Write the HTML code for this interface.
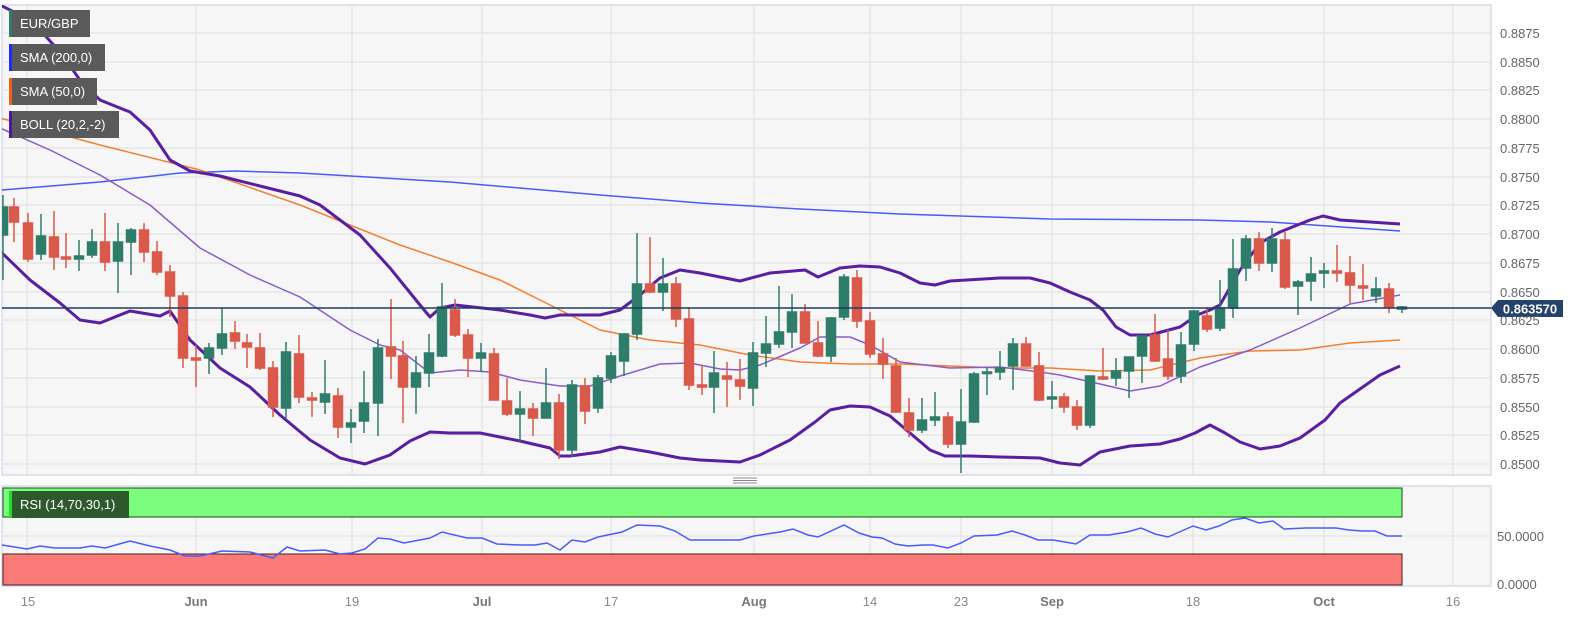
<!DOCTYPE html>
<html><head><meta charset="utf-8"><style>
html,body{margin:0;padding:0;background:#fff;width:1570px;height:623px;overflow:hidden}
svg{display:block;font-family:"Liberation Sans",sans-serif}
</style></head><body>
<svg width="1570" height="623" viewBox="0 0 1570 623" xmlns="http://www.w3.org/2000/svg">
<defs><clipPath id="mc"><rect x="2" y="5" width="1489" height="470"/></clipPath></defs>
<rect x="0" y="0" width="1570" height="623" fill="#fff"/>
<rect x="2" y="5" width="1489" height="470" fill="#f6f6f6" stroke="#d6dbe8" stroke-width="1.5"/>
<rect x="2" y="486" width="1489" height="100" fill="#f6f6f6" stroke="#d6dbe8" stroke-width="1.5"/>
<g stroke="#e3e3e3" stroke-width="1.2">
<line x1="2" x2="1491" y1="33" y2="33"/><line x1="2" x2="1491" y1="62" y2="62"/><line x1="2" x2="1491" y1="90" y2="90"/><line x1="2" x2="1491" y1="119" y2="119"/><line x1="2" x2="1491" y1="148" y2="148"/><line x1="2" x2="1491" y1="177" y2="177"/><line x1="2" x2="1491" y1="205" y2="205"/><line x1="2" x2="1491" y1="234" y2="234"/><line x1="2" x2="1491" y1="263" y2="263"/><line x1="2" x2="1491" y1="292" y2="292"/><line x1="2" x2="1491" y1="320" y2="320"/><line x1="2" x2="1491" y1="349" y2="349"/><line x1="2" x2="1491" y1="378" y2="378"/><line x1="2" x2="1491" y1="407" y2="407"/><line x1="2" x2="1491" y1="435" y2="435"/><line x1="2" x2="1491" y1="464" y2="464"/>
<line x1="2" x2="1491" y1="536" y2="536"/>
<g>
<line x1="27" x2="27" y1="5" y2="475"/><line x1="196" x2="196" y1="5" y2="475"/><line x1="352" x2="352" y1="5" y2="475"/><line x1="482" x2="482" y1="5" y2="475"/><line x1="611" x2="611" y1="5" y2="475"/><line x1="754" x2="754" y1="5" y2="475"/><line x1="870" x2="870" y1="5" y2="475"/><line x1="961" x2="961" y1="5" y2="475"/><line x1="1052" x2="1052" y1="5" y2="475"/><line x1="1193" x2="1193" y1="5" y2="475"/><line x1="1324" x2="1324" y1="5" y2="475"/><line x1="1453" x2="1453" y1="5" y2="475"/>
<line x1="27" x2="27" y1="486" y2="586"/><line x1="196" x2="196" y1="486" y2="586"/><line x1="352" x2="352" y1="486" y2="586"/><line x1="482" x2="482" y1="486" y2="586"/><line x1="611" x2="611" y1="486" y2="586"/><line x1="754" x2="754" y1="486" y2="586"/><line x1="870" x2="870" y1="486" y2="586"/><line x1="961" x2="961" y1="486" y2="586"/><line x1="1052" x2="1052" y1="486" y2="586"/><line x1="1193" x2="1193" y1="486" y2="586"/><line x1="1324" x2="1324" y1="486" y2="586"/><line x1="1453" x2="1453" y1="486" y2="586"/>
</g></g>

<g clip-path="url(#mc)" fill="none" stroke-linejoin="round">
<polyline stroke="#4a5cf5" stroke-width="1.5" points="2,190 100,182 180,173 235,171 300,173 450,182 600,195 700,203 800,209 900,214 1050,219 1200,220 1270,222 1400,231"/>
<polyline stroke="#f08030" stroke-width="1.5" points="0,118 100,145 200,170 300,205 400,245 450,262 500,280 550,305 600,330 650,340 700,345 750,355 800,362 850,364 900,364 1000,368 1050,368 1100,371 1150,370 1200,358 1250,351 1300,350 1350,343 1400,340"/>
<polyline stroke="#8a5cc8" stroke-width="1.5" points="0,128 50,150 100,175 150,205 200,248 250,275 300,297 350,330 380,345 400,350 430,373 460,370 490,372 520,380 560,386 590,386 620,376 660,364 690,363 720,369 740,370 760,365 800,348 820,337 850,337 870,345 900,362 950,368 1000,367 1040,372 1060,375 1100,384 1130,391 1160,386 1200,367 1250,350 1300,328 1350,304 1400,295"/>
<polyline stroke="#5a1fa0" stroke-width="3" points="0,5 20,15 40,30 60,52 80,80 100,100 130,112 150,130 170,160 190,171 220,176 260,186 300,196 320,205 340,220 360,235 390,268 420,305 430,317 440,308 455,305 500,310 530,315 545,318 560,315 600,315 620,310 640,295 660,278 680,270 700,273 740,281 770,273 805,270 818,277 840,268 860,266 880,267 900,273 920,283 935,285 950,281 1000,278 1030,278 1050,283 1070,292 1090,300 1103,310 1116,327 1130,335 1150,335 1180,327 1197,315 1210,310 1220,305 1240,270 1260,243 1280,232 1310,220 1323,216 1340,220 1370,222 1400,224"/>
<polyline stroke="#5a1fa0" stroke-width="3" points="0,251 30,280 60,303 80,320 100,323 130,311 160,316 170,311 190,340 220,368 250,387 280,415 310,440 340,458 365,464 390,455 410,441 430,432 450,433 480,433 520,441 550,448 560,456 570,456 600,452 620,447 650,452 680,458 700,460 740,462 760,455 790,440 815,422 830,410 850,406 870,407 890,416 910,433 930,450 945,456 970,456 1000,457 1040,458 1060,463 1080,465 1100,452 1130,446 1160,444 1180,439 1195,433 1210,425 1225,433 1240,442 1260,449 1280,446 1300,438 1325,420 1340,403 1360,389 1380,375 1400,366"/>
</g>

<g clip-path="url(#mc)" stroke-width="1.5">
<g stroke="#2e7d6b" fill="#2e7d6b">
<path d="M3 195V280M41 214V260M79 240V271M92 229V258M118 223V293M131 228V275M209 343V374M222 308V355M286 342V418M325 360V414M351 409V443M364 371V433M378 339V436M416 356V414M429 334V387M442 283V357M481 343V372M520 391V441M546 368V418M572 380V457M598 375V413M611 352V383M624 333V376M637 233V340M663 258V311M714 351V413M753 342V406M766 316V367M779 286V348M792 294V348M831 317V362M844 274V320M922 398V433M935 392V426M961 389V473M974 372V423M987 367V395M1000 351V380M1013 338V390M1052 381V409M1090 376V428M1116 358V386M1129 357V398M1142 336V383M1181 332V383M1194 310V351M1220 280V331M1233 239V318M1246 235V281M1272 228V272M1298 280V315M1311 257V301M1324 263V288M1376 277V303M1402 306V313" fill="none"/>
<rect x="-1" y="207" width="8.5" height="28"/><rect x="36.5" y="236" width="9" height="18"/><rect x="74.5" y="256" width="9" height="3"/><rect x="87.5" y="242" width="9" height="13"/><rect x="113.5" y="242" width="9" height="19"/><rect x="126.5" y="230" width="9" height="12"/><rect x="204.5" y="348" width="9" height="10"/><rect x="217.5" y="334" width="9" height="14"/><rect x="281.5" y="352" width="9" height="56"/><rect x="320.5" y="394" width="9" height="8"/><rect x="346.5" y="423" width="9" height="4"/><rect x="359.5" y="403" width="9" height="18"/><rect x="373.5" y="348" width="9" height="55"/><rect x="411.5" y="373" width="9" height="14"/><rect x="424.5" y="353" width="9" height="20"/><rect x="437.5" y="307" width="9" height="49"/><rect x="476.5" y="353" width="9" height="5"/><rect x="515.5" y="409" width="9" height="5"/><rect x="541.5" y="403" width="9" height="15"/><rect x="567.5" y="385" width="9" height="65"/><rect x="593.5" y="378" width="9" height="30"/><rect x="606.5" y="356" width="9" height="22"/><rect x="619.5" y="334" width="9" height="27"/><rect x="632.5" y="284" width="9" height="50"/><rect x="658.5" y="284" width="9" height="8"/><rect x="709.5" y="373" width="9" height="14"/><rect x="748.5" y="353" width="9" height="35"/><rect x="761.5" y="344" width="9" height="9"/><rect x="774.5" y="332" width="9" height="12"/><rect x="787.5" y="312" width="9" height="20"/><rect x="826.5" y="318" width="9" height="38"/><rect x="839.5" y="277" width="9" height="40"/><rect x="917.5" y="420" width="9" height="10"/><rect x="930.5" y="417" width="9" height="3"/><rect x="956.5" y="422" width="9" height="22"/><rect x="969.5" y="374" width="9" height="48"/><rect x="982.5" y="372" width="9" height="1.5"/><rect x="995.5" y="368" width="9" height="4"/><rect x="1008.5" y="344" width="9" height="22"/><rect x="1047.5" y="397" width="9" height="2"/><rect x="1085.5" y="376" width="9" height="49"/><rect x="1111.5" y="371" width="9" height="7"/><rect x="1124.5" y="357" width="9" height="14"/><rect x="1137.5" y="336" width="9" height="20"/><rect x="1176.5" y="345" width="9" height="31"/><rect x="1189.5" y="311" width="9" height="33"/><rect x="1215.5" y="308" width="9" height="20"/><rect x="1228.5" y="269" width="9" height="39"/><rect x="1241.5" y="239" width="9" height="29"/><rect x="1267.5" y="239" width="9" height="24"/><rect x="1293.5" y="282" width="9" height="4"/><rect x="1306.5" y="274" width="9" height="7"/><rect x="1319.5" y="271" width="9" height="2"/><rect x="1371.5" y="289" width="9" height="7"/><rect x="1397.5" y="307" width="9" height="2"/>
</g>
<g stroke="#d9594a" fill="#d9594a">
<path d="M14 198V242M28 213V262M54 211V270M66 233V268M105 213V271M144 223V262M157 241V275M170 265V317M183 292V368M196 345V387M235 321V349M247 334V368M260 333V370M273 361V417M299 335V403M312 392V417M338 388V438M391 299V379M403 341V423M455 299V337M468 329V377M494 348V400M507 378V416M533 403V436M559 394V459M585 378V424M650 237V293M676 277V327M689 307V390M702 365V395M727 362V407M740 359V400M805 304V343M818 321V357M857 270V328M870 312V358M883 338V379M896 358V413M909 398V437M948 412V448M1026 337V367M1039 352V401M1064 393V413M1077 400V430M1103 348V380M1155 314V362M1168 330V380M1207 307V332M1259 232V271M1285 232V289M1337 245V282M1350 256V303M1363 264V300M1389 283V313" fill="none"/>
<rect x="9.5" y="207" width="9" height="15"/><rect x="23.5" y="223" width="9" height="36"/><rect x="49.5" y="237" width="9" height="20"/><rect x="61.5" y="257" width="9" height="2"/><rect x="100.5" y="242" width="9" height="20"/><rect x="139.5" y="230" width="9" height="22"/><rect x="152.5" y="252" width="9" height="20"/><rect x="165.5" y="272" width="9" height="24"/><rect x="178.5" y="296" width="9" height="62"/><rect x="191.5" y="358" width="9" height="2"/><rect x="230.5" y="333" width="9" height="8"/><rect x="242.5" y="343" width="9" height="4"/><rect x="255.5" y="348" width="9" height="20"/><rect x="268.5" y="368" width="9" height="39"/><rect x="294.5" y="354" width="9" height="43"/><rect x="307.5" y="398" width="9" height="2"/><rect x="333.5" y="396" width="9" height="31"/><rect x="386.5" y="347" width="9" height="9"/><rect x="398.5" y="356" width="9" height="31"/><rect x="450.5" y="310" width="9" height="25"/><rect x="463.5" y="335" width="9" height="23"/><rect x="489.5" y="354" width="9" height="46"/><rect x="502.5" y="401" width="9" height="13"/><rect x="528.5" y="409" width="9" height="9"/><rect x="554.5" y="403" width="9" height="47"/><rect x="580.5" y="386" width="9" height="25"/><rect x="645.5" y="284" width="9" height="8"/><rect x="671.5" y="284" width="9" height="35"/><rect x="684.5" y="319" width="9" height="66"/><rect x="697.5" y="385" width="9" height="2"/><rect x="722.5" y="376" width="9" height="3"/><rect x="735.5" y="380" width="9" height="6"/><rect x="800.5" y="312" width="9" height="31"/><rect x="813.5" y="343" width="9" height="13"/><rect x="852.5" y="278" width="9" height="43"/><rect x="865.5" y="321" width="9" height="33"/><rect x="878.5" y="354" width="9" height="10"/><rect x="891.5" y="366" width="9" height="46"/><rect x="904.5" y="413" width="9" height="17"/><rect x="943.5" y="417" width="9" height="27"/><rect x="1021.5" y="344" width="9" height="22"/><rect x="1034.5" y="366" width="9" height="34"/><rect x="1059.5" y="397" width="9" height="10"/><rect x="1072.5" y="407" width="9" height="18"/><rect x="1098.5" y="377" width="9" height="2"/><rect x="1150.5" y="335" width="9" height="26"/><rect x="1163.5" y="359" width="9" height="17"/><rect x="1202.5" y="316" width="9" height="13"/><rect x="1254.5" y="239" width="9" height="24"/><rect x="1280.5" y="240" width="9" height="47"/><rect x="1332.5" y="271" width="9" height="2"/><rect x="1345.5" y="273" width="9" height="12"/><rect x="1358.5" y="286" width="9" height="2"/><rect x="1384.5" y="289" width="9" height="18"/>
</g></g>

<line x1="2" x2="1491" y1="308" y2="308" stroke="#1f3d63" stroke-width="1.5"/>
<path d="M1491 308 L1498 300 H1563 V317 H1498 Z" fill="#24426a"/>
<text x="1530" y="313.5" font-size="13" font-weight="bold" fill="#fff" text-anchor="middle">0.863570</text>

<g font-size="13" fill="#666">
<text x="1500" y="38">0.8875</text><text x="1500" y="67">0.8850</text><text x="1500" y="95">0.8825</text><text x="1500" y="124">0.8800</text><text x="1500" y="153">0.8775</text><text x="1500" y="182">0.8750</text><text x="1500" y="210">0.8725</text><text x="1500" y="239">0.8700</text><text x="1500" y="268">0.8675</text><text x="1500" y="297">0.8650</text><text x="1500" y="325">0.8625</text><text x="1500" y="354">0.8600</text><text x="1500" y="383">0.8575</text><text x="1500" y="412">0.8550</text><text x="1500" y="440">0.8525</text><text x="1500" y="469">0.8500</text>
<text x="1497" y="541">50.0000</text><text x="1497" y="589">0.0000</text>
</g>
<g font-size="13" fill="#888" text-anchor="middle">
<text x="28" y="606">15</text><text x="196" y="606" font-weight="bold" fill="#777">Jun</text><text x="352" y="606">19</text><text x="482" y="606" font-weight="bold" fill="#777">Jul</text><text x="611" y="606">17</text><text x="754" y="606" font-weight="bold" fill="#777">Aug</text><text x="870" y="606">14</text><text x="961" y="606">23</text><text x="1052" y="606" font-weight="bold" fill="#777">Sep</text><text x="1193" y="606">18</text><text x="1324" y="606" font-weight="bold" fill="#777">Oct</text><text x="1453" y="606">16</text>
</g>

<g stroke="#888" stroke-width="1"><line x1="733" x2="757" y1="478" y2="478"/><line x1="733" x2="757" y1="480.5" y2="480.5"/><line x1="733" x2="757" y1="483" y2="483"/></g>

<rect x="3" y="488" width="1399" height="29" fill="#7cfc7c" stroke="#1d4a1d" stroke-width="1"/>
<rect x="3" y="554" width="1399" height="31" fill="#fa7a78" stroke="#4a1d1d" stroke-width="1"/>
<polyline fill="none" stroke="#4a5cf5" stroke-width="1.5" points="2,545 27,549 40,546 55,548 80,548 92,546 105,548 130,541 150,546 170,550 185,556 200,556 222,551 250,552 273,558 287,547 300,551 325,550 340,554 352,553 365,549 378,538 390,539 404,543 430,538 442,532 467,538 482,538 497,544 520,545 535,545 547,543 560,550 572,540 585,542 598,537 622,532 637,525 660,526 675,531 690,540 710,540 740,540 754,536 780,532 793,529 808,535 818,537 844,525 859,533 872,537 882,538 895,544 908,546 923,545 933,545 948,548 961,543 974,536 997,535 1012,531 1025,535 1038,540 1053,540 1065,542 1076,544 1090,535 1109,535 1127,532 1141,528 1155,534 1168,537 1193,526 1206,530 1219,526 1232,520 1245,518 1259,523 1273,521 1284,529 1306,528 1336,528 1349,530 1362,531 1375,531 1387,536 1402,536"/>

<g font-size="13" fill="#fff">
<rect x="9" y="10" width="81" height="27" fill="#5a5a5a"/><rect x="9" y="10" width="3" height="27" fill="#2e7d6b"/><text x="20" y="28">EUR/GBP</text>
<rect x="9" y="44" width="96" height="27" fill="#5a5a5a"/><rect x="9" y="44" width="3" height="27" fill="#1a2cff"/><text x="20" y="62">SMA (200,0)</text>
<rect x="9" y="78" width="88" height="27" fill="#5a5a5a"/><rect x="9" y="78" width="3" height="27" fill="#f06010"/><text x="20" y="96">SMA (50,0)</text>
<rect x="9" y="111" width="110" height="27" fill="#5a5a5a"/><rect x="9" y="111" width="3" height="27" fill="#4a1a9a"/><text x="20" y="129">BOLL (20,2,-2)</text>
<rect x="9" y="491" width="120" height="27" fill="#2d5a2d"/><rect x="9" y="491" width="3" height="27" fill="#22dd22"/><text x="20" y="509">RSI (14,70,30,1)</text>
</g>
</svg>
</body></html>
